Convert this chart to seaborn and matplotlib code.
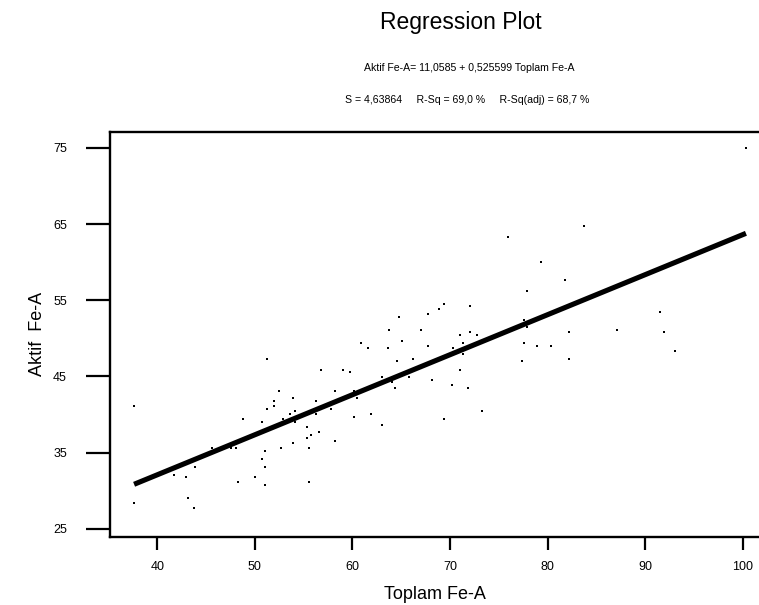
import numpy as np
import pandas as pd
import matplotlib
matplotlib.use("Agg")
import matplotlib.pyplot as plt
import seaborn as sns

# Data
toplam_fe = [51.26, 56.80, 37.62, 52.49, 53.93, 51.98, 51.98, 51.26, 56.29, 54.13,
             53.62, 56.29, 48.80, 50.75, 52.90, 54.13, 55.36, 56.59, 55.77, 55.36,
             53.93, 45.62, 47.57, 48.08, 52.70, 55.57, 51.06, 50.75, 43.88, 51.06,
             41.72, 42.95, 50.03, 48.29, 55.57, 51.06, 43.16, 37.62, 43.77,
             77.93, 69.42, 68.90, 72.08, 67.77, 64.80, 63.77, 67.06, 72.08, 71.06,
             72.80, 77.62, 77.93, 65.11, 60.90, 71.36, 77.62, 78.95, 61.62, 63.67,
             67.77, 70.34, 72.39, 71.36, 66.24, 64.59, 77.41, 59.06, 59.77, 71.06,
             63.06, 65.83, 68.18, 64.08, 70.24, 64.39, 71.88, 58.24, 60.18, 60.49,
             57.83, 73.31, 61.93, 60.18, 69.42, 63.06, 58.24,
             79.36, 81.83, 91.57, 82.24, 87.16, 91.98, 80.39, 93.01, 82.24, 100.33,
             83.77, 75.98]
aktif_fe = [47.33, 45.88, 41.18, 43.12, 42.20, 41.80, 41.14, 40.75, 41.80, 40.49,
            40.09, 40.09, 39.43, 39.04, 39.38, 39.04, 38.38, 37.72, 37.33, 36.93,
            36.28, 35.62, 35.62, 35.62, 35.62, 35.62, 35.22, 34.17, 33.12, 33.12,
            32.07, 31.80, 31.80, 31.14, 31.14, 30.75, 29.04, 28.38, 27.72,
            56.28, 54.57, 53.91, 54.30, 53.25, 52.86, 51.14, 51.14, 50.88, 50.49,
            50.49, 52.41, 51.54, 49.71, 49.43, 49.43, 49.43, 49.04, 48.78, 48.78,
            49.04, 48.78, 49.04, 47.99, 47.33, 47.07, 47.07, 45.88, 45.62, 45.88,
            44.96, 44.96, 44.57, 44.30, 43.91, 43.51, 43.51, 43.12, 43.12, 42.20,
            40.75, 40.49, 40.09, 39.70, 39.43, 38.64, 36.54,
            60.09, 57.72, 53.51, 50.88, 51.14, 50.88, 49.04, 48.38, 47.33, 74.96,
            64.70, 63.25]
intercept = 11.0585
slope = 0.525599
x_ticks = [40, 50, 60, 70, 80, 90, 100]
y_ticks = [25, 35, 45, 55, 65, 75]

df = pd.DataFrame({"Toplam Fe-A": toplam_fe, "Aktif Fe-A": aktif_fe})
fit_x = np.sort(np.array(toplam_fe))
fit_df = pd.DataFrame({"x": fit_x, "y": intercept + slope * fit_x})

sns.set_theme(style="white")
plt.rcParams["font.family"] = ["Liberation Sans", "DejaVu Sans"]
plt.rcParams["text.color"] = "black"
plt.rcParams["axes.labelcolor"] = "black"
plt.rcParams["xtick.color"] = "black"
plt.rcParams["ytick.color"] = "black"

fig = plt.figure(figsize=(7.59, 6.05), dpi=100)
ax = fig.add_axes([110 / 759, 1 - 536.7 / 605, 1 - 110 / 759, (536.7 - 132) / 605])

sns.scatterplot(data=df, x="Toplam Fe-A", y="Aktif Fe-A", ax=ax, marker="s",
                s=1.2, color="black", linewidth=0)
sns.lineplot(data=fit_df, x="x", y="y", ax=ax, color="black", linewidth=3.7,
             solid_capstyle="butt")

ax.set_xlim(35.15, 101.67)
ax.set_ylim(23.95, 77.1)
ax.set_xticks(x_ticks)
ax.set_yticks(y_ticks)
ax.set_xticklabels([str(t) for t in x_ticks], fontsize=9, color="black")
ax.set_yticklabels([str(t) for t in y_ticks], fontsize=9, color="black")
ax.tick_params(axis="y", direction="out", length=17, width=1.6, pad=14, color="black", left=True)
ax.tick_params(axis="x", direction="out", length=9.5, width=1.6, pad=8, color="black", bottom=True)

for side in ["left", "bottom", "top"]:
    ax.spines[side].set_visible(True)
    ax.spines[side].set_color("black")
    ax.spines[side].set_linewidth(1.7)
ax.spines["right"].set_visible(False)

ax.set_xlabel("Toplam Fe-A", fontsize=13, labelpad=9, color="black")
ax.set_ylabel("Aktif  Fe-A", fontsize=13, labelpad=5, color="black")
ax.grid(False)

fig.text(461 / 759, 1 - 22 / 605, "Regression Plot", fontsize=16.5, ha="center",
         va="center", color="black")
fig.text(469 / 759, 1 - 68 / 605, "Aktif Fe-A= 11,0585 + 0,525599 Toplam Fe-A",
         fontsize=7.6, ha="center", va="center", color="black")
fig.text(467 / 759, 1 - 100 / 605, "S = 4,63864     R-Sq = 69,0 %     R-Sq(adj) = 68,7 %",
         fontsize=7.6, ha="center", va="center", color="black")

fig.savefig("out.png", dpi=100)
